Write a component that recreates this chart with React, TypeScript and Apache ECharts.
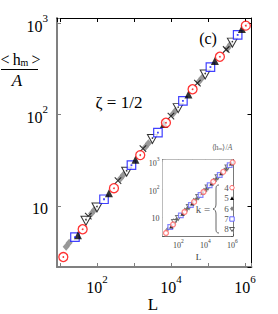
import React, { useEffect, useRef } from 'react';
import * as echarts from 'echarts';

// k = 4 (red circles)
const circleL = [12.3, 41, 288, 1480, 7330, 38500, 211000, 1060000];
const circleH = [2.74, 5.53, 15.6, 36.0, 81.5, 190, 432, 948];
// k = 5 (black filled triangles)
const triUpL = [30.6, 211, 1099, 6470, 29700, 154500, 830000];
const triUpH = [4.75, 13.7, 32.1, 78.9, 166, 388, 873];
// k = 6 (gray diamonds)
const diamondL = [14.7, 17.7, 71.0, 85.6, 432, 520, 2045, 2465, 11300, 13650, 57100, 68900, 337000, 405000];
const diamondH = [3.56, 3.92, 8.21, 9.04, 19.9, 21.9, 44.2, 48.6, 102, 112, 229, 252, 533, 588];
// k = 7 (blue squares)
const squareL = [25.4, 155, 856, 4450, 21100, 117000, 638000];
const squareH = [4.52, 11.8, 27.9, 63.5, 142, 333, 750];
// k = 8 (open triangles down)
const triDownL = [50.4, 100, 635, 3160, 15700, 84500, 459000];
const triDownH = [6.85, 9.58, 23.6, 54.0, 118, 276, 617];
// crosses
const crossL = [58.2, 370, 1750, 10000, 52000, 312500];
const crossH = [7.69, 18.9, 42.4, 96.6, 222, 519];

const xLabelExps = [2, 4, 6];
const yLabelExps = [1, 2, 3];
const legendKs = ['4', '5', '6', '7', '8'];

const SERIF = 'Liberation Serif';

const zip = (a: number[], b: number[]) => a.map((v, i) => [v, b[i]]);

function fmt(exps: number[], big: boolean) {
  return (v: number) => {
    const lg = Math.log10(v);
    const e = Math.round(lg);
    if (Math.abs(lg - e) > 1e-6) return '';
    if (exps.indexOf(e) < 0) return '';
    const b = big ? 'b' : 'ib';
    const s = big ? 's' : 'is';
    if (e === 1) return `{${b}|10}`;
    return `{${b}|10}{${s}|${e}}`;
  };
}

const rich = {
  b: { fontSize: 16, fontFamily: SERIF, color: '#000', verticalAlign: 'bottom', lineHeight: 22 },
  s: { fontSize: 11, fontFamily: SERIF, color: '#000', verticalAlign: 'top', lineHeight: 22 },
  ib: { fontSize: 8, fontFamily: SERIF, color: '#444', verticalAlign: 'bottom', lineHeight: 11 },
  is: { fontSize: 5.5, fontFamily: SERIF, color: '#444', verticalAlign: 'top', lineHeight: 11 },
};

export default function App() {
  const ref = useRef<HTMLDivElement>(null);
  useEffect(() => {
    if (!ref.current) return;
    echarts.graphic.registerShape(
      'brace',
      echarts.graphic.extendPath(
        'M4,0 C1,0 1,2 1,5 L1,19 C1,22 0,23.5 -2,24 C0,24.5 1,26 1,29 L1,43 C1,46 1,48 4,48',
        {}
      )
    );
    const chart = echarts.init(ref.current, null, { renderer: 'svg' });

    const mainX = { min: 8.3, max: 1510000 };
    const mainY = { min: 2.13, max: 1150 };
    const inX = { min: 6.8, max: 1120000 };
    const inY = { min: 2.14, max: 1200 };

    const xBase = (grid: number, pos: string, ext: any, show: boolean, col: string, w: number, inset: boolean) => ({
      type: 'log',
      logBase: 10,
      gridIndex: grid,
      position: pos,
      min: ext.min,
      max: ext.max,
      splitLine: { show: false },
      minorTick: { show: false },
      axisLine: { show: true, lineStyle: { color: col, width: w } },
      axisTick: { show: true, inside: true, length: inset ? 2 : 4, lineStyle: { color: col, width: 1 } },
      axisLabel: show
        ? { show: true, formatter: fmt(xLabelExps, !inset), rich, margin: inset ? 2 : 6 }
        : { show: false },
    });
    const yBase = (grid: number, pos: string, ext: any, show: boolean, col: string, w: number, inset: boolean) => ({
      type: 'log',
      logBase: 10,
      gridIndex: grid,
      position: pos,
      min: ext.min,
      max: ext.max,
      splitLine: { show: false },
      minorTick: { show: false },
      axisLine: { show: true, lineStyle: { color: col, width: w } },
      axisTick: { show: true, inside: true, length: inset ? 2 : 4, lineStyle: { color: col, width: 1 } },
      axisLabel: show
        ? { show: true, formatter: fmt(yLabelExps, !inset), rich, margin: inset ? 3 : 9 }
        : { show: false },
    });

    const mainSeries = (inset: boolean) => {
      const xi = inset ? 2 : 0;
      const sc = inset ? 0.55 : 1;
      const red = inset ? '#ff6666' : '#ff0000';
      const blue = inset ? '#6666ff' : '#1010ff';
      const base = { type: 'scatter', xAxisIndex: xi, yAxisIndex: xi, z: 3 };
      const list: any[] = [
        {
          ...base, name: 'k6', data: zip(diamondL, diamondH), symbol: 'diamond', symbolSize: [7 * sc, 8 * sc],
          itemStyle: { color: '#808080' },
        },
        {
          ...base, name: 'cross', data: zip(crossL, crossH), symbol: 'path://M0,0L10,10M10,0L0,10', symbolSize: 6.5 * sc,
          itemStyle: { color: 'none', borderColor: inset ? '#555' : '#000', borderWidth: 1.1 },
        },
        {
          ...base, name: 'k8', data: zip(triDownL, triDownH), symbol: 'triangle', symbolRotate: 180, symbolSize: [10 * sc, 9 * sc],
          itemStyle: { color: '#fff', borderColor: inset ? '#555' : '#000', borderWidth: 1 },
        },
        {
          ...base, name: 'k7', data: zip(squareL, squareH), symbol: 'rect', symbolSize: 8.5 * sc,
          itemStyle: { color: '#fff', borderColor: blue, borderWidth: 1.2 },
        },
        {
          ...base, name: 'k5', data: zip(triUpL, triUpH), symbol: 'triangle', symbolSize: [8 * sc, 8 * sc],
          itemStyle: { color: '#000' },
        },
        {
          ...base, name: 'k4', data: zip(circleL, circleH), symbol: 'circle', symbolSize: 9 * sc,
          itemStyle: { color: '#fff', borderColor: red, borderWidth: 1.3 },
        },
      ];
      if (!inset) {
        list.push(
          { ...base, z: 4, data: zip(circleL, circleH), symbol: 'circle', symbolSize: 1.8, itemStyle: { color: red } },
          { ...base, z: 4, data: zip(squareL, squareH), symbol: 'rect', symbolSize: 1.8, itemStyle: { color: blue } },
          { ...base, z: 4, data: zip(triDownL, triDownH), symbol: 'circle', symbolSize: 1.6, symbolOffset: [0, -1], itemStyle: { color: '#000' } }
        );
      }
      return list;
    };

    const gray = '#555';
    const legendY = [187.7, 198.3, 208.7, 219, 229.3];
    const Z = 100;

    const graphics: any[] = [
      // y-axis title fraction
      {
        type: 'text', x: 20.5, y: 59, z: Z,
        style: {
          text: '{t|<}{t|\u2009h}{sub|m}{t|\u2009>}', align: 'center', verticalAlign: 'middle',
          rich: {
            t: { fontSize: 16, fontFamily: SERIF, fill: '#000' },
            sub: { fontSize: 10, fontFamily: SERIF, fill: '#000', padding: [7, 0, 0, 0] },
          },
        },
      },
      { type: 'line', z: Z, shape: { x1: 1, y1: 69.5, x2: 38, y2: 69.5 }, style: { stroke: '#000', lineWidth: 1 } },
      {
        type: 'text', x: 17, y: 80, z: Z,
        style: { text: 'A', font: `italic 17px ${SERIF}`, fill: '#000', align: 'center', verticalAlign: 'middle' },
      },
      {
        type: 'text', x: 119, y: 102, z: Z,
        style: { text: 'ζ = 1/2', font: `17px ${SERIF}`, fill: '#000', align: 'center', verticalAlign: 'middle' },
      },
      {
        type: 'text', x: 208, y: 38, z: Z,
        style: { text: '(c)', font: `16px ${SERIF}`, fill: '#000', align: 'center', verticalAlign: 'middle' },
      },
      {
        type: 'text', x: 153, y: 304, z: Z,
        style: { text: 'L', font: `17px ${SERIF}`, fill: '#000', align: 'center', verticalAlign: 'middle' },
      },
      // inset texts
      {
        type: 'text', x: 222, y: 147, z: Z,
        style: {
          text: '{t|⟨h}{sub|m}{t|⟩/}{a|A}', align: 'center', verticalAlign: 'middle',
          rich: {
            t: { fontSize: 8, fontFamily: SERIF, fill: '#666' },
            sub: { fontSize: 5, fontFamily: SERIF, fill: '#666', padding: [3, 0, 0, 0] },
            a: { fontSize: 8, fontFamily: SERIF, fontStyle: 'italic', fill: '#666' },
          },
        },
      },
      {
        type: 'text', x: 198.5, y: 257, z: Z,
        style: { text: 'L', font: `9px ${SERIF}`, fill: '#333', align: 'center', verticalAlign: 'middle' },
      },
      {
        type: 'text', x: 203, y: 208.5, z: Z,
        style: { text: 'k =', font: `11px ${SERIF}`, fill: gray, align: 'center', verticalAlign: 'middle' },
      },
      {
        type: 'brace', x: 215, y: 185, z: Z, style: { fill: 'none', stroke: gray, lineWidth: 0.9 },
      },
    ];
    legendKs.forEach((k, i) => {
      graphics.push({
        type: 'text', x: 226.5, y: legendY[i], z: Z,
        style: { text: k, font: `9px ${SERIF}`, fill: gray, align: 'center', verticalAlign: 'middle' },
      });
    });
    const mx = 232;
    graphics.push(
      { type: 'circle', z: Z, shape: { cx: mx, cy: legendY[0], r: 2.2 }, style: { fill: '#fff', stroke: '#ff5555', lineWidth: 0.9 } },
      { type: 'polygon', z: Z, shape: { points: [[mx - 2, legendY[1] + 1.6], [mx + 2, legendY[1] + 1.6], [mx, legendY[1] - 2]] }, style: { fill: '#000' } },
      { type: 'polygon', z: Z, shape: { points: [[mx, legendY[2] - 2.4], [mx + 2, legendY[2]], [mx, legendY[2] + 2.4], [mx - 2, legendY[2]]] }, style: { fill: '#808080' } },
      { type: 'rect', z: Z, shape: { x: mx - 2.2, y: legendY[3] - 2.2, width: 4.4, height: 4.4 }, style: { fill: '#fff', stroke: '#5555ff', lineWidth: 0.9 } },
      { type: 'polygon', z: Z, shape: { points: [[mx - 2.4, legendY[4] - 1.8], [mx + 2.4, legendY[4] - 1.8], [mx, legendY[4] + 2.2]] }, style: { fill: '#fff', stroke: '#333', lineWidth: 0.8 } }
    );

    chart.setOption({
      animation: false,
      backgroundColor: '#fff',
      grid: [
        { left: 57, right: 26.5, top: 18, bottom: 47, show: false },
        { left: 162.5, right: 45, top: 159.5, bottom: 78, show: true, backgroundColor: '#fff', borderWidth: 0, z: 1 },
      ],
      xAxis: [
        xBase(0, 'bottom', mainX, true, '#808080', 2, false),
        xBase(0, 'top', mainX, false, '#000', 1, false),
        xBase(1, 'bottom', inX, true, '#555', 0.8, true),
        xBase(1, 'top', inX, false, '#555', 0.8, true),
      ],
      yAxis: [
        yBase(0, 'left', mainY, true, '#808080', 2, false),
        yBase(0, 'right', mainY, false, '#000', 1, false),
        yBase(1, 'left', inY, true, '#555', 0.8, true),
        yBase(1, 'right', inY, false, '#555', 0.8, true),
      ],
      series: [...mainSeries(false), ...mainSeries(true)],
      graphic: graphics,
    });
    return () => chart.dispose();
  }, []);
  return <div ref={ref} style={{ position: 'fixed', left: 0, top: 0, width: 278, height: 314 }} />;
}
